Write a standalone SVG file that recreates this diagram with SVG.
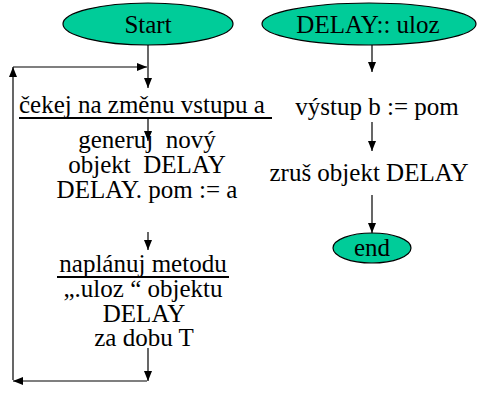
<svg xmlns="http://www.w3.org/2000/svg" width="478" height="394" viewBox="0 0 478 394">
  <defs>
    <marker id="arrow" viewBox="0 0 10 8" refX="10" refY="4" markerWidth="10" markerHeight="8" markerUnits="userSpaceOnUse" orient="auto">
      <path d="M0,0 L10,4 L0,8 Z" fill="#000"/>
    </marker>
    <style>
      .term { fill: #00CC99; stroke: #000; stroke-width: 1.2; }
      .lbl { font-family: "Liberation Serif", "Times New Roman", serif; font-size: 25px; fill: #000; }
      .mid { text-anchor: middle; }
      .ul { stroke: #000; stroke-width: 2; }
      .conn { fill: none; stroke: #000; stroke-width: 1.2; marker-end: url(#arrow); }
    </style>
  </defs>

  <rect width="478" height="394" fill="#fff"/>

  <!-- connectors -->
  <g id="connectors">
    <line class="conn" x1="148" y1="45" x2="148" y2="88"/>
    <line class="conn" x1="13" y1="67" x2="147" y2="67"/>
    <line class="conn" x1="148" y1="119" x2="148" y2="141"/>
    <line class="conn" x1="148" y1="232" x2="148" y2="250"/>
    <line class="conn" x1="148" y1="348" x2="148" y2="381"/>
    <line class="conn" x1="147" y1="381" x2="13" y2="381"/>
    <line class="conn" x1="13" y1="380" x2="13" y2="67"/>
    <line class="conn" x1="372" y1="45" x2="372" y2="72"/>
    <line class="conn" x1="372" y1="122" x2="372" y2="151"/>
    <line class="conn" x1="372" y1="195" x2="372" y2="233"/>
  </g>

  <g font-family="Liberation Serif, Times New Roman, serif">
    <g id="start">
      <ellipse class="term" cx="148" cy="24" rx="85" ry="21"/>
      <text class="lbl mid" x="148" y="33">Start</text>
    </g>

    <g id="wait">
      <text class="lbl" x="19" y="113">čekej na změnu vstupu a</text>
      <line class="ul" x1="19" y1="118" x2="272" y2="118"/>
    </g>

    <g id="create">
      <text class="lbl mid" x="147" y="148" xml:space="preserve">generuj  nový</text>
      <text class="lbl mid" x="147" y="173" xml:space="preserve">objekt  DELAY</text>
      <text class="lbl mid" x="147" y="197.5">DELAY. pom := a</text>
    </g>

    <g id="schedule">
      <text class="lbl mid" x="143" y="272">naplánuj metodu</text>
      <line class="ul" x1="57" y1="277" x2="229" y2="277"/>
      <text class="lbl mid" x="143" y="297">„.uloz “ objektu</text>
      <text class="lbl mid" x="144" y="321.5">DELAY</text>
      <text class="lbl mid" x="144" y="346">za dobu T</text>
    </g>

    <g id="uloz">
      <ellipse class="term" cx="369" cy="24" rx="107" ry="21"/>
      <text class="lbl mid" x="368" y="33">DELAY:: uloz</text>
    </g>

    <g id="output">
      <text class="lbl mid" x="377" y="115">výstup b := pom</text>
    </g>

    <g id="destroy">
      <text class="lbl mid" x="369" y="181">zruš objekt DELAY</text>
    </g>

    <g id="end">
      <ellipse class="term" cx="372" cy="248" rx="39" ry="15"/>
      <text class="lbl mid" x="372" y="256">end</text>
    </g>
  </g>
</svg>
